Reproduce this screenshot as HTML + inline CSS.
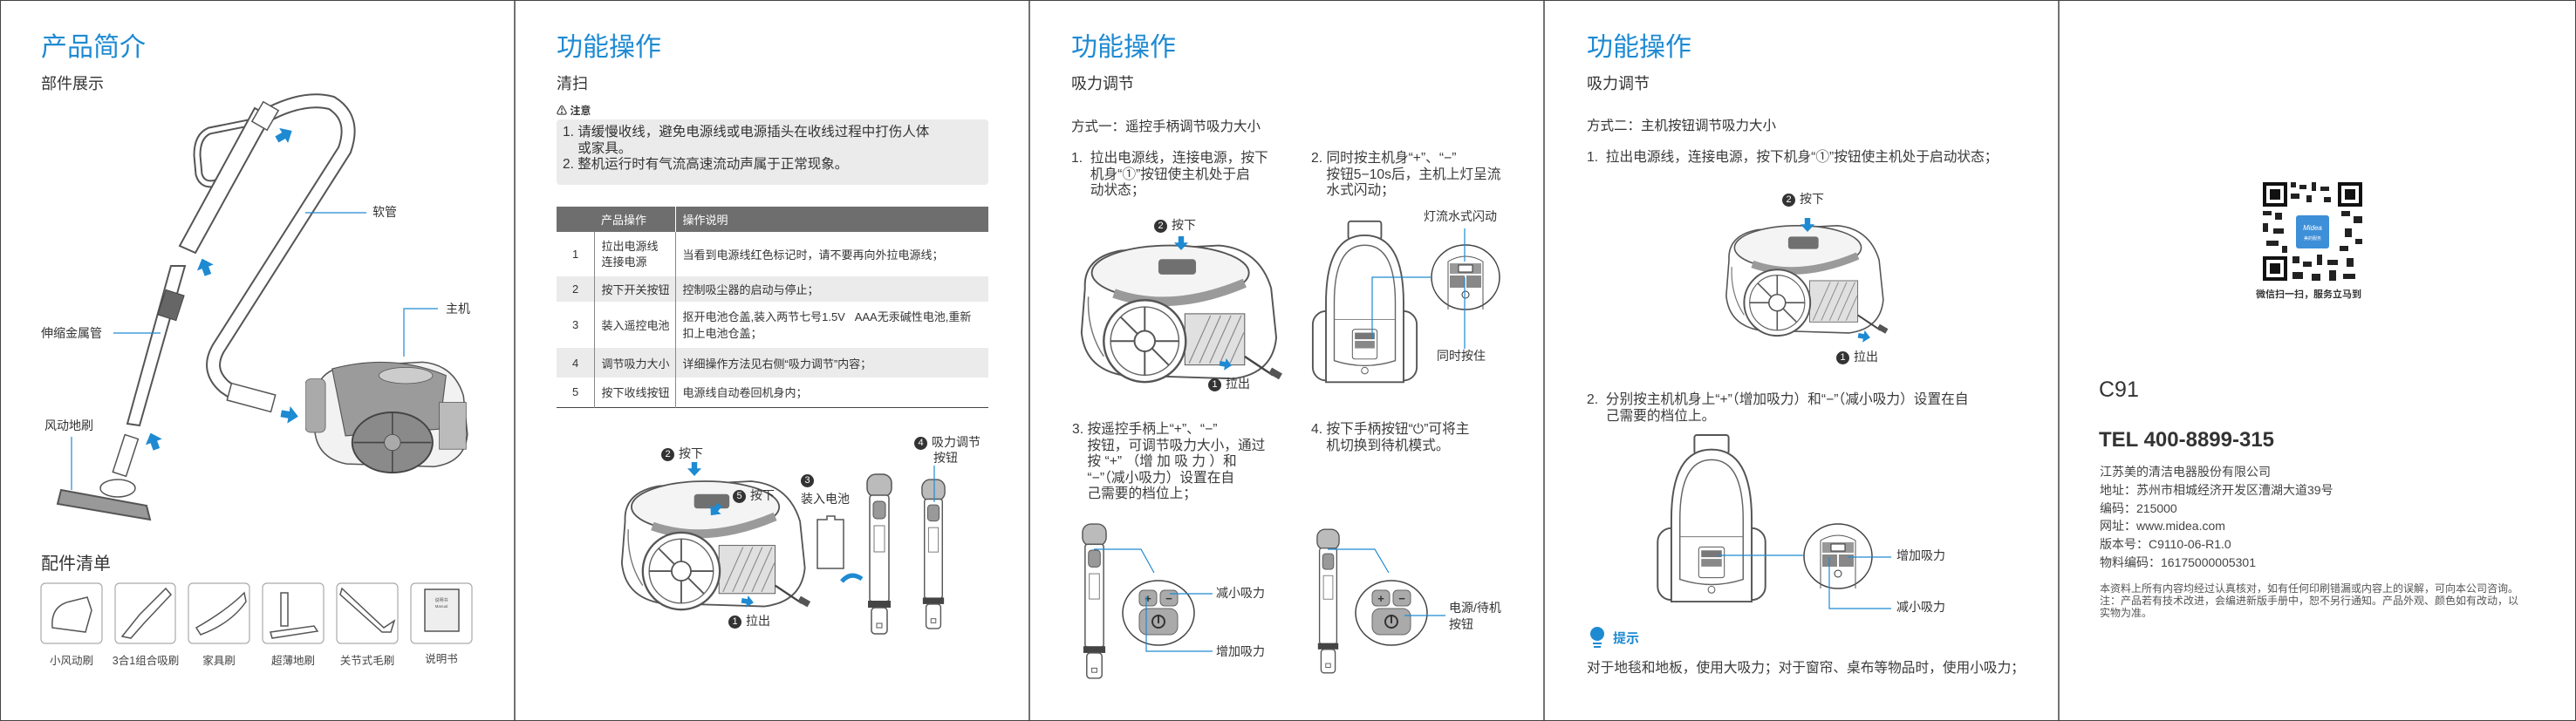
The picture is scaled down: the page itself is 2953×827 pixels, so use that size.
<!DOCTYPE html>
<html><head><meta charset="utf-8">
<style>
*{margin:0;padding:0;box-sizing:border-box}
body{width:2953px;height:827px;background:#fff;position:relative;overflow:hidden;font-family:"Liberation Sans","Noto Sans CJK SC",sans-serif;color:#3a3a3a}
.t{position:absolute;white-space:nowrap}
.h1{font-size:30px;color:#1e8ad2;line-height:34px;top:38px}
.h2{font-size:18px;line-height:22px;top:85px;color:#333}
.p16{font-size:15.7px;line-height:18.5px}
.lab{font-size:14px;color:#333;line-height:16px}
.c{display:inline-block;width:15px;height:15px;border-radius:50%;background:#333;color:#fff;font-size:11px;line-height:15px;text-align:center;vertical-align:1px;margin-right:5px}
table{border-collapse:collapse;font-size:13px;color:#333}
td{padding:0 0 0 8px}
</style></head><body>
<svg width="2953" height="827" style="position:absolute;left:0;top:0">
<defs>
<symbol id="vac" viewBox="0 0 250 190">
<path d="M18,70 Q16,34 60,26 L175,20 Q222,24 236,70 L242,128 Q238,170 192,176 L62,172 Q18,164 14,122 Z" fill="#fff" stroke="#555" stroke-width="2"/>
<path d="M22,80 Q20,120 40,150" fill="none" stroke="#777" stroke-width="1.5"/>
<ellipse cx="118" cy="52" rx="92" ry="32" fill="#f4f4f4" stroke="#555" stroke-width="2"/>
<path d="M52,76 Q120,100 205,64" fill="none" stroke="#9a9a9a" stroke-width="11"/>
<rect x="104" y="36" width="44" height="18" rx="4" fill="#707070"/>
<rect x="135" y="100" width="70" height="60" fill="#e0e0e0" stroke="#555"/>
<g stroke="#888" stroke-width="1.2"><line x1="140" y1="158" x2="165" y2="102"/><line x1="152" y1="158" x2="177" y2="102"/><line x1="164" y1="158" x2="189" y2="102"/><line x1="176" y1="158" x2="201" y2="102"/><line x1="188" y1="158" x2="204" y2="122"/></g>
<circle cx="88" cy="132" r="48" fill="#fff" stroke="#555" stroke-width="2.5"/>
<circle cx="88" cy="132" r="40" fill="none" stroke="#666" stroke-width="1.5"/>
<circle cx="88" cy="132" r="12" fill="#fff" stroke="#555" stroke-width="2"/>
<g stroke="#555" stroke-width="2"><line x1="88" y1="92" x2="88" y2="120"/><line x1="88" y1="144" x2="88" y2="172"/><line x1="48" y1="132" x2="76" y2="132"/><line x1="100" y1="132" x2="128" y2="132"/><line x1="60" y1="104" x2="80" y2="124"/><line x1="96" y1="140" x2="116" y2="160"/></g>
<path d="M205,150 L238,172" stroke="#444" stroke-width="2.5"/>
<rect x="234" y="166" width="14" height="8" fill="#555" transform="rotate(30 241 170)"/>
</symbol>
<symbol id="vacg" viewBox="0 0 250 190">
<path d="M18,70 Q16,34 60,26 L175,20 Q222,24 236,70 L242,128 Q238,170 192,176 L62,172 Q18,164 14,122 Z" fill="#f2f2f2" stroke="#555" stroke-width="2"/>
<path d="M40,30 Q130,6 210,40 L200,120 L60,130 Z" fill="#9b9b9b" stroke="#555" stroke-width="1.5"/>
<rect x="0" y="45" width="30" height="80" rx="8" fill="#aaa" stroke="#555"/>
<ellipse cx="150" cy="40" rx="40" ry="12" fill="#ccc" stroke="#555"/>
<ellipse cx="130" cy="140" rx="60" ry="45" fill="#8a8a8a" stroke="#444" stroke-width="2.5"/>
<circle cx="130" cy="140" r="12" fill="#aaa" stroke="#444"/>
<g stroke="#444" stroke-width="2"><line x1="130" y1="96" x2="130" y2="128"/><line x1="130" y1="152" x2="130" y2="184"/><line x1="72" y1="140" x2="118" y2="140"/><line x1="142" y1="140" x2="188" y2="140"/></g>
<rect x="200" y="80" width="40" height="70" fill="#bbb" stroke="#555"/>
</symbol>
<symbol id="front" viewBox="0 0 130 200">
<rect x="45" y="1" width="40" height="22" rx="3" fill="#fff" stroke="#555" stroke-width="2"/>
<rect x="2" y="110" width="126" height="84" rx="16" fill="#fff" stroke="#555" stroke-width="2"/>
<path d="M18,196 L18,100 Q18,18 65,18 Q112,18 112,100 L112,196 Z" fill="#fff" stroke="#555" stroke-width="2"/>
<path d="M28,170 L28,100 Q28,30 65,30 Q102,30 102,100 L102,170 Q65,182 28,170 Z" fill="none" stroke="#666" stroke-width="1.5"/>
<line x1="28" y1="120" x2="102" y2="120" stroke="#777"/>
<rect x="50" y="132" width="30" height="36" rx="3" fill="#fff" stroke="#555"/>
<rect x="53" y="136" width="24" height="8" fill="#777"/><rect x="53" y="146" width="24" height="9" fill="#888"/>
<circle cx="65" cy="182" r="4" fill="none" stroke="#555"/>
</symbol>
<symbol id="hand" viewBox="0 0 30 185">
<rect x="1" y="1" width="28" height="26" rx="10" fill="#bbb" stroke="#555" stroke-width="1.5"/>
<rect x="4" y="25" width="22" height="122" rx="3" fill="#fff" stroke="#555" stroke-width="1.5"/>
<rect x="8" y="32" width="14" height="20" rx="4" fill="#999" stroke="#555"/>
<rect x="9" y="60" width="12" height="30" fill="none" stroke="#777"/>
<rect x="2" y="146" width="26" height="8" fill="#444"/>
<rect x="6" y="154" width="18" height="30" rx="4" fill="#fff" stroke="#555" stroke-width="1.5"/>
<rect x="12" y="172" width="6" height="5" fill="none" stroke="#555"/>
</symbol>
<symbol id="rem" viewBox="0 0 84 76">
<ellipse cx="42" cy="38" rx="41" ry="37" fill="#fff" stroke="#444" stroke-width="1.5"/>
<rect x="20" y="12" width="20" height="18" rx="5" fill="#aaa" stroke="#666"/>
<rect x="44" y="12" width="20" height="18" rx="5" fill="#aaa" stroke="#666"/>
<rect x="20" y="33" width="44" height="30" rx="9" fill="#aaa" stroke="#666"/>
<text x="30" y="26" font-size="13" font-weight="bold" text-anchor="middle" fill="#333">+</text>
<text x="54" y="26" font-size="13" font-weight="bold" text-anchor="middle" fill="#333">−</text>
<circle cx="42" cy="48" r="7" fill="none" stroke="#333" stroke-width="2"/><line x1="42" y1="40" x2="42" y2="50" stroke="#333" stroke-width="2"/>
</symbol>
<symbol id="pan" viewBox="0 0 80 76">
<ellipse cx="40" cy="38" rx="39" ry="37" fill="#fff" stroke="#444" stroke-width="1.5"/>
<path d="M20,75 L20,20 Q40,8 60,20 L60,75" fill="none" stroke="#555"/>
<rect x="22" y="22" width="36" height="12" fill="#999"/><rect x="32" y="24" width="16" height="8" fill="#fff" stroke="#333"/>
<rect x="22" y="36" width="17" height="14" fill="#888"/><rect x="41" y="36" width="17" height="14" fill="#888"/>
<circle cx="40" cy="58" r="4" fill="none" stroke="#333"/>
</symbol>
<symbol id="arr" viewBox="0 0 20 20"><path d="M6,0 L14,0 L14,9 L20,9 L10,20 L0,9 L6,9 Z" fill="#1e8ad2"/></symbol>
</defs>
<rect x="0.5" y="0.5" width="2952" height="826" fill="none" stroke="#444"/>
<g stroke="#444" stroke-width="1.5"><line x1="590" y1="0" x2="590" y2="827"/><line x1="1180" y1="0" x2="1180" y2="827"/><line x1="1770" y1="0" x2="1770" y2="827"/><line x1="2360" y1="0" x2="2360" y2="827"/></g>

<!-- Panel1 illustration -->
<path d="M310,130 Q350,110 380,118 Q408,135 395,172 L250,400 Q236,425 258,444 L270,452" fill="none" stroke="#555" stroke-width="17" stroke-linecap="round"/>
<path d="M310,130 Q350,110 380,118 Q408,135 395,172 L250,400 Q236,425 258,444 L270,452" fill="none" stroke="#fff" stroke-width="13" stroke-linecap="round"/>
<path d="M290,140 L240,150 Q226,156 226,178 L228,200 Q232,214 248,210 L258,200" fill="none" stroke="#555" stroke-width="9"/>
<path d="M290,140 L240,150 Q226,156 226,178 L228,200 Q232,214 248,210 L258,200" fill="none" stroke="#fff" stroke-width="5"/>
<polygon points="292,124 310,134 224,290 206,282" fill="#fff" stroke="#555" stroke-width="2"/>
<rect x="294" y="120" width="20" height="26" fill="#fff" stroke="#555" stroke-width="1.5" transform="rotate(30 304 133)"/>
<rect x="262" y="446" width="52" height="20" fill="#fff" stroke="#555" stroke-width="1.5" transform="rotate(15 288 456)"/>
<path d="M196,305 L212,305 L160,488 L146,486 Z" fill="#fff" stroke="#555" stroke-width="2"/>
<rect x="185" y="335" width="22" height="30" fill="#666" stroke="#444" transform="rotate(18 196 350)"/>
<rect x="136" y="500" width="16" height="45" fill="#fff" stroke="#555" stroke-width="1.5" transform="rotate(18 144 522)"/>
<path d="M70,562 L168,580 L172,596 L66,578 Z" fill="#999" stroke="#555" stroke-width="2"/>
<ellipse cx="135" cy="560" rx="20" ry="10" fill="#fff" stroke="#555" stroke-width="1.5"/>
<use href="#vacg" x="350" y="400" width="192" height="146"/>
<use href="#arr" x="316" y="145" width="20" height="20" transform="rotate(-120 326 155)"/>
<use href="#arr" x="225" y="296" width="20" height="20" transform="rotate(160 235 306)"/>
<use href="#arr" x="166" y="496" width="20" height="20" transform="rotate(160 176 506)"/>
<use href="#arr" x="322" y="466" width="20" height="20" transform="rotate(-80 332 476)"/>
<g stroke="#1e8ad2" stroke-width="1.2" fill="none"><polyline points="350,244 420,244"/><polyline points="502,354 463,354 463,409"/><polyline points="130,382 184,382"/><polyline points="82,501 82,562"/></g>
<g fill="#fff" stroke="#aaa" stroke-width="1.2">
<rect x="47" y="669" width="70" height="69" rx="5"/><rect x="132" y="669" width="69" height="69" rx="5"/><rect x="216" y="669" width="70" height="69" rx="5"/><rect x="301" y="669" width="70" height="69" rx="5"/><rect x="386" y="669" width="70" height="69" rx="5"/><rect x="471" y="669" width="70" height="69" rx="5"/></g>
<g fill="#fff" stroke="#555" stroke-width="1.5">
<path d="M60,720 Q58,695 80,690 L100,685 L105,700 L98,725 Z"/>
<path d="M140,730 L160,705 L190,675 L196,682 L165,715 L150,732 Z"/>
<path d="M225,720 Q260,700 280,680 L282,690 Q265,715 230,728 Z"/>
<path d="M310,725 L360,718 L364,724 L312,732 Z"/><rect x="322" y="680" width="8" height="38"/>
<path d="M392,675 L440,720 L452,712 L448,725 L438,725 L390,682 Z"/>
<rect x="487" y="676" width="39" height="48" fill="#eee"/></g>
<text x="506" y="690" font-size="5" text-anchor="middle" fill="#555">说明书</text>
<text x="506" y="697" font-size="4.5" text-anchor="middle" fill="#555">Manual</text>

<!-- Panel2 illustration -->
<use href="#vac" x="700" y="522" width="230" height="198"/>
<use href="#arr" x="788" y="528" width="16" height="20"/>
<use href="#arr" x="812" y="576" width="16" height="18" transform="rotate(40 820 585)"/>
<use href="#arr" x="850" y="681" width="14" height="18" transform="rotate(-80 857 690)"/>
<path d="M937,596 L948,596 L948,592 L957,592 L957,596 L967,596 L967,652 L937,652 Z" fill="#fff" stroke="#555" stroke-width="1.5"/>
<path d="M965,667 Q975,655 988,664" fill="none" stroke="#1e8ad2" stroke-width="5"/>
<use href="#hand" x="993" y="543" width="30" height="185"/>
<use href="#hand" x="1056" y="543" width="28" height="185"/>
<line x1="1071" y1="534" x2="1071" y2="576" stroke="#1e8ad2" stroke-width="1.2"/>

<!-- Panel3 illustration -->
<use href="#vac" x="1226" y="262" width="245" height="186"/>
<use href="#arr" x="1346" y="268" width="16" height="22"/>
<use href="#arr" x="1398" y="408" width="14" height="20" transform="rotate(-80 1405 418)"/>
<use href="#front" x="1503" y="250" width="123" height="195"/>
<use href="#pan" x="1639" y="280" width="82" height="76"/>
<g stroke="#1e8ad2" stroke-width="1.2" fill="none"><polyline points="1679,262 1679,300"/><polyline points="1640,318 1573,318 1573,389"/><polyline points="1679,318 1679,400"/></g>
<use href="#hand" x="1240" y="597" width="29" height="185"/>
<use href="#rem" x="1286" y="665" width="84" height="76"/>
<g stroke="#1e8ad2" stroke-width="1.2" fill="none"><polyline points="1254,630 1308,630 1323,657"/><polyline points="1341,681 1390,681"/><polyline points="1314,684 1314,747 1390,747"/></g>
<use href="#hand" x="1509" y="597" width="27" height="185"/>
<use href="#rem" x="1553" y="665" width="84" height="76"/>
<g stroke="#1e8ad2" stroke-width="1.2" fill="none"><polyline points="1522,630 1576,630 1592,657"/><polyline points="1610,706 1657,706"/></g>

<!-- Panel4 illustration -->
<use href="#vac" x="1945" y="243" width="243" height="150"/>
<use href="#arr" x="2064" y="248" width="16" height="20"/>
<use href="#arr" x="2130" y="375" width="14" height="22" transform="rotate(-80 2137 386)"/>
<use href="#front" x="1894" y="498" width="136" height="196"/>
<use href="#pan" x="2067" y="600" width="80" height="76"/>
<g stroke="#1e8ad2" stroke-width="1.2" fill="none"><polyline points="1970,637 2068,637"/><polyline points="2118,639 2168,639"/><polyline points="2097,639 2097,698 2168,698"/></g>
<circle cx="1831" cy="727" r="8" fill="#1e8ad2"/><rect x="1826" y="737" width="10" height="2" fill="#1e8ad2"/><rect x="1827" y="741" width="8" height="2" fill="#1e8ad2"/>

<!-- QR -->
<rect x="2594" y="209" width="114" height="113" fill="#fff"/>
<g fill="#111">
<rect x="2594" y="209" width="28" height="28"/><rect x="2680" y="209" width="28" height="28"/><rect x="2594" y="294" width="28" height="28"/>
</g>
<g fill="#fff"><rect x="2598" y="213" width="20" height="20"/><rect x="2684" y="213" width="20" height="20"/><rect x="2598" y="298" width="20" height="20"/></g>
<g fill="#111"><rect x="2602" y="217" width="12" height="12"/><rect x="2688" y="217" width="12" height="12"/><rect x="2602" y="302" width="12" height="12"/></g>
<g fill="#222">
<rect x="2626" y="209" width="6" height="6"/><rect x="2636" y="212" width="8" height="5"/><rect x="2650" y="209" width="5" height="10"/><rect x="2660" y="214" width="10" height="5"/><rect x="2626" y="222" width="10" height="6"/><rect x="2644" y="224" width="6" height="8"/><rect x="2664" y="226" width="8" height="6"/>
<rect x="2594" y="242" width="10" height="5"/><rect x="2608" y="244" width="8" height="8"/><rect x="2594" y="256" width="6" height="10"/><rect x="2606" y="262" width="12" height="6"/><rect x="2598" y="276" width="14" height="6"/><rect x="2616" y="282" width="6" height="8"/>
<rect x="2684" y="242" width="10" height="6"/><rect x="2698" y="248" width="10" height="8"/><rect x="2688" y="262" width="8" height="10"/><rect x="2700" y="274" width="8" height="6"/><rect x="2682" y="282" width="10" height="6"/>
<rect x="2628" y="294" width="8" height="8"/><rect x="2640" y="300" width="10" height="6"/><rect x="2656" y="292" width="6" height="12"/><rect x="2668" y="298" width="12" height="6"/><rect x="2690" y="296" width="8" height="10"/><rect x="2628" y="312" width="12" height="8"/><rect x="2650" y="314" width="10" height="8"/><rect x="2670" y="310" width="8" height="12"/><rect x="2686" y="314" width="14" height="6"/>
</g>
<rect x="2632" y="247" width="38" height="38" rx="3" fill="#3d8fd8"/>
<text x="2651" y="264" font-size="8" fill="#fff" text-anchor="middle" font-style="italic">Midea</text>
<text x="2651" y="275" font-size="5" fill="#fff" text-anchor="middle">美的服务</text>
</svg>

<div class="t h1" style="left:47px">产品简介</div>
<div class="t h2" style="left:47px">部件展示</div>
<div class="t lab" style="left:427px;top:235px">软管</div>
<div class="t lab" style="left:511px;top:346px">主机</div>
<div class="t lab" style="left:47px;top:374px">伸缩金属管</div>
<div class="t lab" style="left:51px;top:480px">风动地刷</div>
<div class="t" style="left:47px;top:630px;font-size:20px;color:#333">配件清单</div>
<div class="t" style="left:47px;top:747px;width:70px;text-align:center;font-size:12.5px;color:#444">小风动刷</div>
<div class="t" style="left:127px;top:747px;width:80px;text-align:center;font-size:12.5px;color:#444">3合1组合吸刷</div>
<div class="t" style="left:216px;top:747px;width:70px;text-align:center;font-size:12.5px;color:#444">家具刷</div>
<div class="t" style="left:301px;top:747px;width:70px;text-align:center;font-size:12.5px;color:#444">超薄地刷</div>
<div class="t" style="left:386px;top:747px;width:70px;text-align:center;font-size:12.5px;color:#444">关节式毛刷</div>
<div class="t" style="left:471px;top:745px;width:70px;text-align:center;font-size:12.5px;color:#444">说明书</div>

<div class="t h1" style="left:638px">功能操作</div>
<div class="t h2" style="left:638px">清扫</div>
<div class="t" style="left:638px;top:118px;font-size:12px;font-weight:bold;color:#333">⚠ 注意</div>
<div style="position:absolute;left:638px;top:137px;width:495px;height:75px;background:#ebebeb;border-radius:4px"></div>
<div class="t" style="left:645px;top:143px;font-size:15.5px;line-height:18.5px;color:#333">1. 请缓慢收线，避免电源线或电源插头在收线过程中打伤人体<br>&nbsp;&nbsp;&nbsp;&nbsp;或家具。<br>2. 整机运行时有气流高速流动声属于正常现象。</div>
<table style="position:absolute;left:638px;top:237px;width:495px">
<tr style="height:29px;background:#6e6e6e;color:#fff"><td style="width:43px"></td><td style="width:93px;border-right:1px solid #fff">产品操作</td><td>操作说明</td></tr>
<tr style="height:51px"><td style="padding-left:18px">1</td><td style="border-left:1px solid #888;border-right:1px solid #888;line-height:18px">拉出电源线<br>连接电源</td><td>当看到电源线红色标记时，请不要再向外拉电源线；</td></tr>
<tr style="height:29px;background:#ebebeb"><td style="padding-left:18px">2</td><td style="border-left:1px solid #888;border-right:1px solid #888">按下开关按钮</td><td>控制吸尘器的启动与停止；</td></tr>
<tr style="height:53px"><td style="padding-left:18px">3</td><td style="border-left:1px solid #888;border-right:1px solid #888">装入遥控电池</td><td style="line-height:19px">抠开电池仓盖,装入两节七号1.5V&nbsp;&nbsp;&nbsp;AAA无汞碱性电池,重新<br>扣上电池仓盖；</td></tr>
<tr style="height:34px;background:#ebebeb"><td style="padding-left:18px">4</td><td style="border-left:1px solid #888;border-right:1px solid #888">调节吸力大小</td><td>详细操作方法见右侧“吸力调节”内容；</td></tr>
<tr style="height:34px;border-bottom:1.5px solid #444"><td style="padding-left:18px">5</td><td style="border-left:1px solid #888;border-right:1px solid #888">按下收线按钮</td><td>电源线自动卷回机身内；</td></tr>
</table>
<div class="t lab" style="left:758px;top:512px"><span class="c">2</span>按下</div>
<div class="t lab" style="left:840px;top:560px"><span class="c">5</span>按下</div>
<div class="t lab" style="left:918px;top:542px"><span class="c">3</span></div>
<div class="t lab" style="left:918px;top:564px">装入电池</div>
<div class="t lab" style="left:1048px;top:499px"><span class="c">4</span>吸力调节</div>
<div class="t lab" style="left:1070px;top:517px">按钮</div>
<div class="t lab" style="left:835px;top:704px"><span class="c">1</span>拉出</div>

<div class="t h1" style="left:1228px">功能操作</div>
<div class="t h2" style="left:1228px">吸力调节</div>
<div class="t" style="left:1228px;top:133px;font-size:15.5px;color:#333">方式一：遥控手柄调节吸力大小</div>
<div class="t p16" style="left:1228px;top:173px">1.&nbsp;&nbsp;拉出电源线，连接电源，按下<br>&nbsp;&nbsp;&nbsp;&nbsp;&nbsp;机身“①”按钮使主机处于启<br>&nbsp;&nbsp;&nbsp;&nbsp;&nbsp;动状态；</div>
<div class="t p16" style="left:1503px;top:173px">2.&nbsp;同时按主机身“+”、“−”<br>&nbsp;&nbsp;&nbsp;&nbsp;按钮5−10s后，主机上灯呈流<br>&nbsp;&nbsp;&nbsp;&nbsp;水式闪动；</div>
<div class="t lab" style="left:1323px;top:250px"><span class="c">2</span>按下</div>
<div class="t lab" style="left:1385px;top:432px"><span class="c">1</span>拉出</div>
<div class="t lab" style="left:1632px;top:240px">灯流水式闪动</div>
<div class="t lab" style="left:1647px;top:400px">同时按住</div>
<div class="t p16" style="left:1229px;top:484px">3. 按遥控手柄上“+”、“−”<br>&nbsp;&nbsp;&nbsp;&nbsp;按钮，可调节吸力大小，通过<br>&nbsp;&nbsp;&nbsp;&nbsp;按 “+” （增 加 吸 力 ）和<br>&nbsp;&nbsp;&nbsp;&nbsp;“−”（减小吸力）设置在自<br>&nbsp;&nbsp;&nbsp;&nbsp;己需要的档位上；</div>
<div class="t p16" style="left:1503px;top:484px">4. 按下手柄按钮“⏻”可将主<br>&nbsp;&nbsp;&nbsp;&nbsp;机切换到待机模式。</div>
<div class="t lab" style="left:1394px;top:672px">减小吸力</div>
<div class="t lab" style="left:1394px;top:739px">增加吸力</div>
<div class="t lab" style="left:1661px;top:688px;line-height:19px">电源/待机<br>按钮</div>

<div class="t h1" style="left:1819px">功能操作</div>
<div class="t h2" style="left:1819px">吸力调节</div>
<div class="t" style="left:1819px;top:132px;font-size:15.5px;color:#333">方式二：主机按钮调节吸力大小</div>
<div class="t p16" style="left:1819px;top:172px">1.&nbsp;&nbsp;拉出电源线，连接电源，按下机身“①”按钮使主机处于启动状态；</div>
<div class="t lab" style="left:2043px;top:220px"><span class="c">2</span>按下</div>
<div class="t lab" style="left:2105px;top:401px"><span class="c">1</span>拉出</div>
<div class="t p16" style="left:1819px;top:450px">2.&nbsp;&nbsp;分别按主机机身上“+”（增加吸力）和“−”（减小吸力）设置在自<br>&nbsp;&nbsp;&nbsp;&nbsp;&nbsp;己需要的档位上。</div>
<div class="t lab" style="left:2174px;top:629px">增加吸力</div>
<div class="t lab" style="left:2174px;top:688px">减小吸力</div>
<div class="t" style="left:1849px;top:721px;font-size:15px;font-weight:bold;color:#1e8ad2">提示</div>
<div class="t p16" style="left:1819px;top:758px">对于地毯和地板，使用大吸力；对于窗帘、桌布等物品时，使用小吸力；</div>

<div class="t" style="left:2586px;top:329px;font-size:11px;font-weight:bold;color:#333">微信扫一扫，服务立马到</div>
<div class="t" style="left:2406px;top:433px;font-size:25px;color:#333">C91</div>
<div class="t" style="left:2406px;top:491px;font-size:24px;font-weight:bold;color:#333">TEL 400-8899-315</div>
<div class="t" style="left:2407px;top:531px;font-size:14px;line-height:20.8px;color:#444">江苏美的清洁电器股份有限公司<br>地址：苏州市相城经济开发区漕湖大道39号<br>编码：215000<br>网址：www.midea.com<br>版本号：C9110-06-R1.0<br>物料编码：16175000005301</div>
<div class="t" style="left:2407px;top:668px;font-size:12px;line-height:14px;color:#555">本资料上所有内容均经过认真核对，如有任何印刷错漏或内容上的误解，可向本公司咨询。<br>注：产品若有技术改进，会编进新版手册中，恕不另行通知。产品外观、颜色如有改动，以<br>实物为准。</div>
</body></html>
